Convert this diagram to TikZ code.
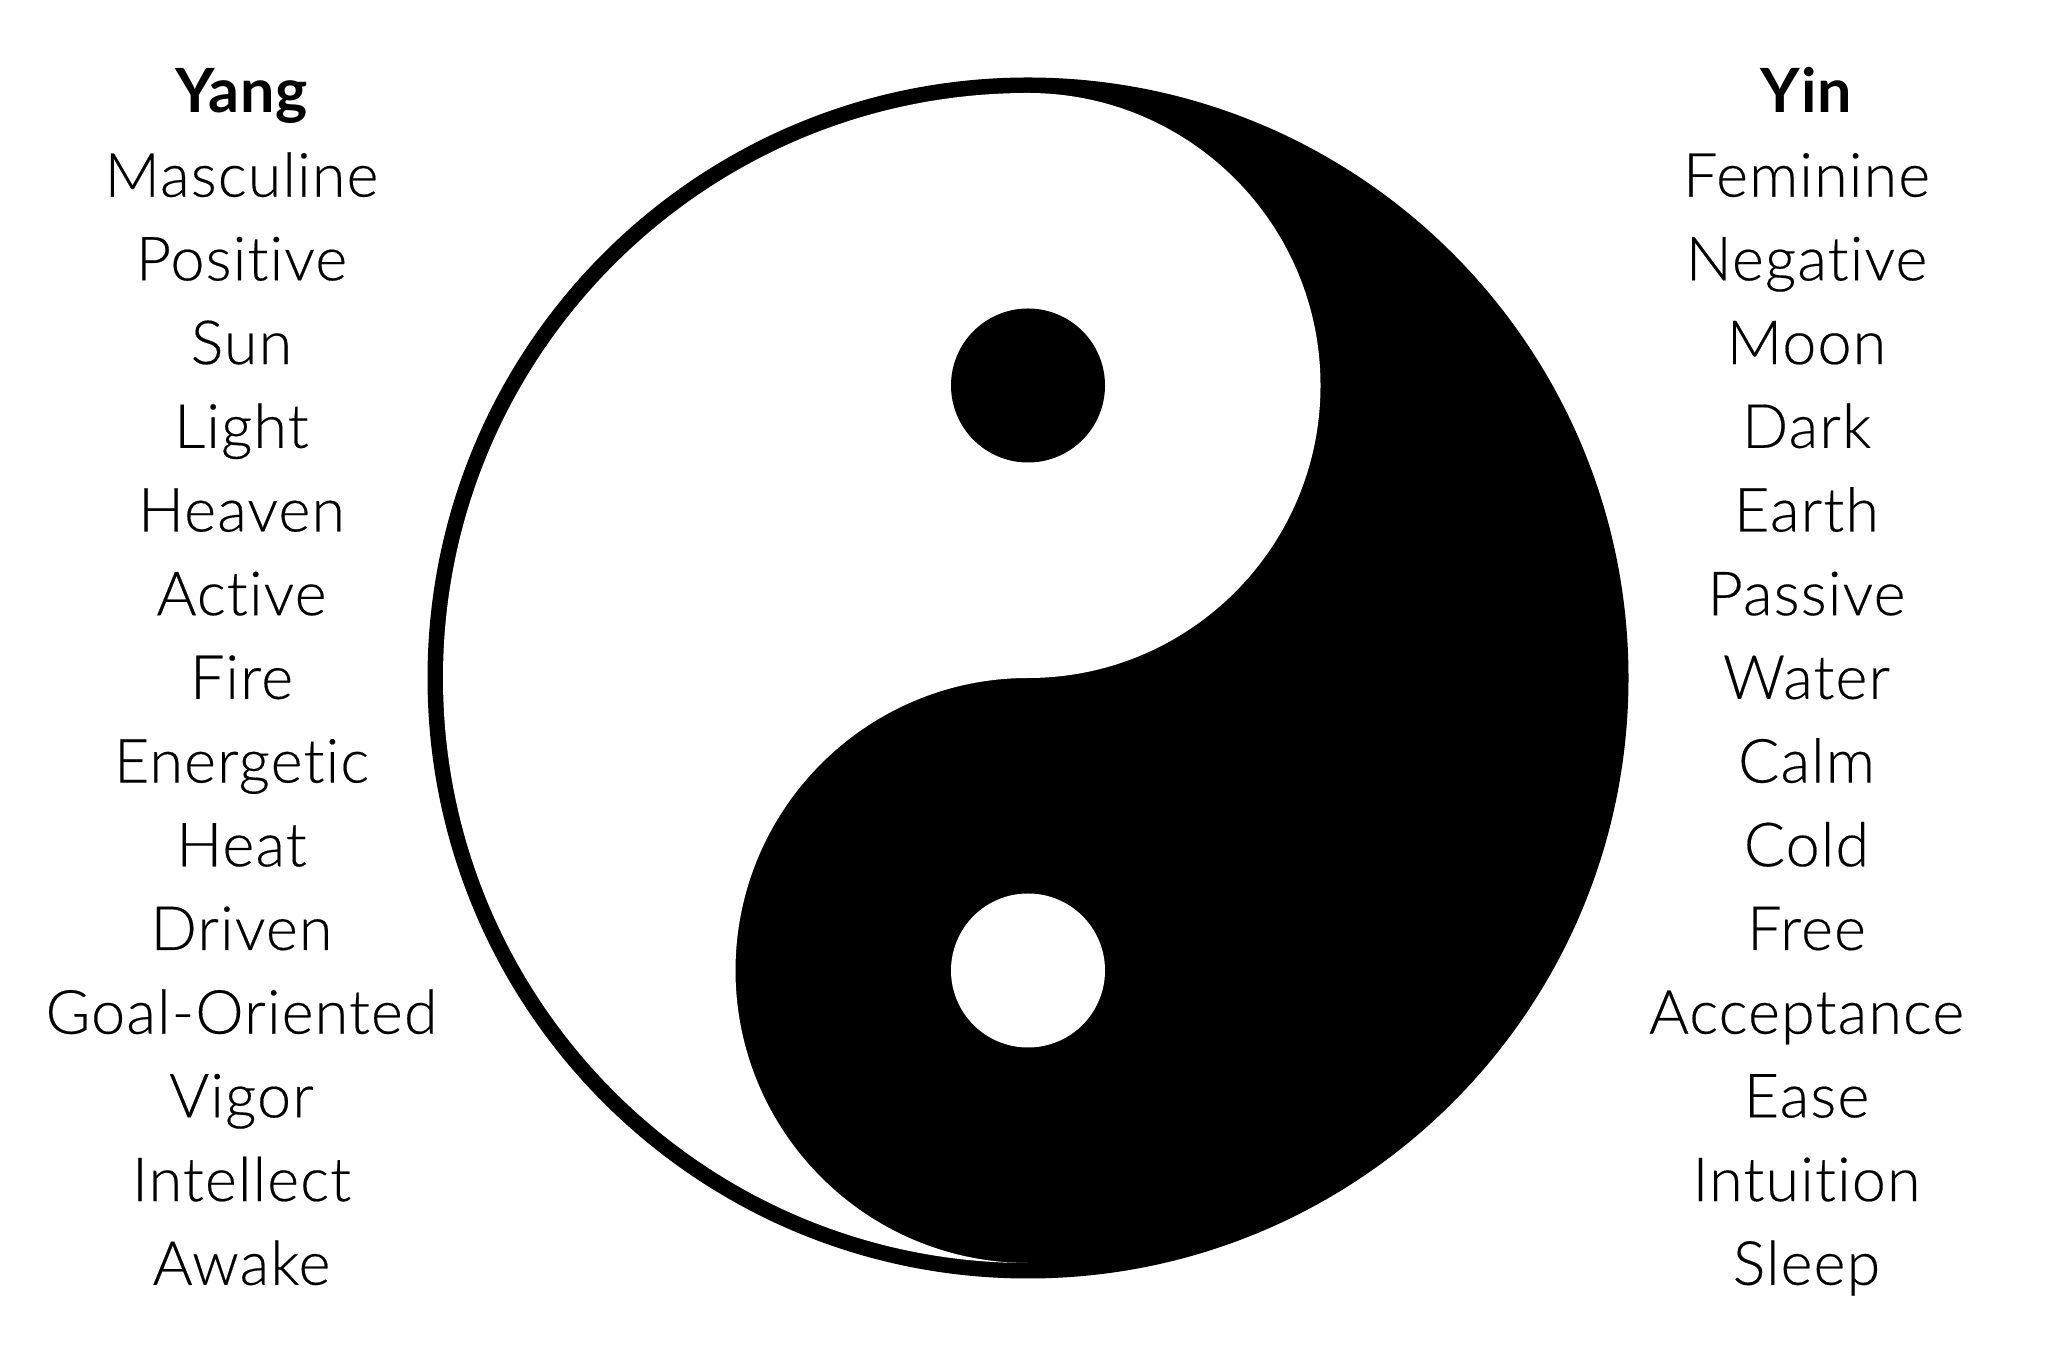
\documentclass[tikz,border=0pt]{standalone}
\usepackage{fontspec}
\setmainfont{Lato Light}[Ligatures=NoCommon,LetterSpace=1.9,FakeBold=0.3,BoldFont={Lato Bold},BoldFeatures={LetterSpace=1.5,FakeBold=0}]
\tikzset{
  lbl/.style={font=\fontsize{61}{61}\selectfont, text=black, inner sep=0pt, anchor=base},
  headlbl/.style={lbl, font=\fontsize{61}{61}\selectfont\bfseries}
}
\begin{document}
\begin{tikzpicture}[x=1pt,y=1pt]
\useasboundingbox (0,0) rectangle (2048,1360);
\fill[white] (0,0) rectangle (2048,1360);
% outer disc
\fill[black] (1028,682) circle[radius=600.5];
% yang body
\fill[white] (1028,1267) arc[start angle=90,end angle=270,radius=585]
  arc[start angle=270,end angle=90,radius=292.5]
  arc[start angle=270,end angle=450,radius=292.5] -- cycle;
% dots
\fill[black] (1028,974.5) circle[radius=77];
\fill[white] (1028,389.5) circle[radius=77];
% labels
\node[headlbl] (yang) at (241.5,1247) {Yang};
\node[headlbl] (yin) at (1806.5,1247) {Yin};
\foreach \t [count=\i] in {Masculine,Positive,Sun,Light,Heaven,Active,Fire,Energetic,Heat,Driven,Goal-Oriented,Vigor,Intellect,Awake}
  \node[lbl] (yang\i) at (241.5,{1247-83.7*\i}) {\t};
\foreach \t [count=\i] in {Feminine,Negative,Moon,Dark,Earth,Passive,Water,Calm,Cold,Free,Acceptance,Ease,Intuition,Sleep}
  \node[lbl] (yin\i) at (1806.5,{1247-83.7*\i}) {\t};
\end{tikzpicture}
\end{document}
